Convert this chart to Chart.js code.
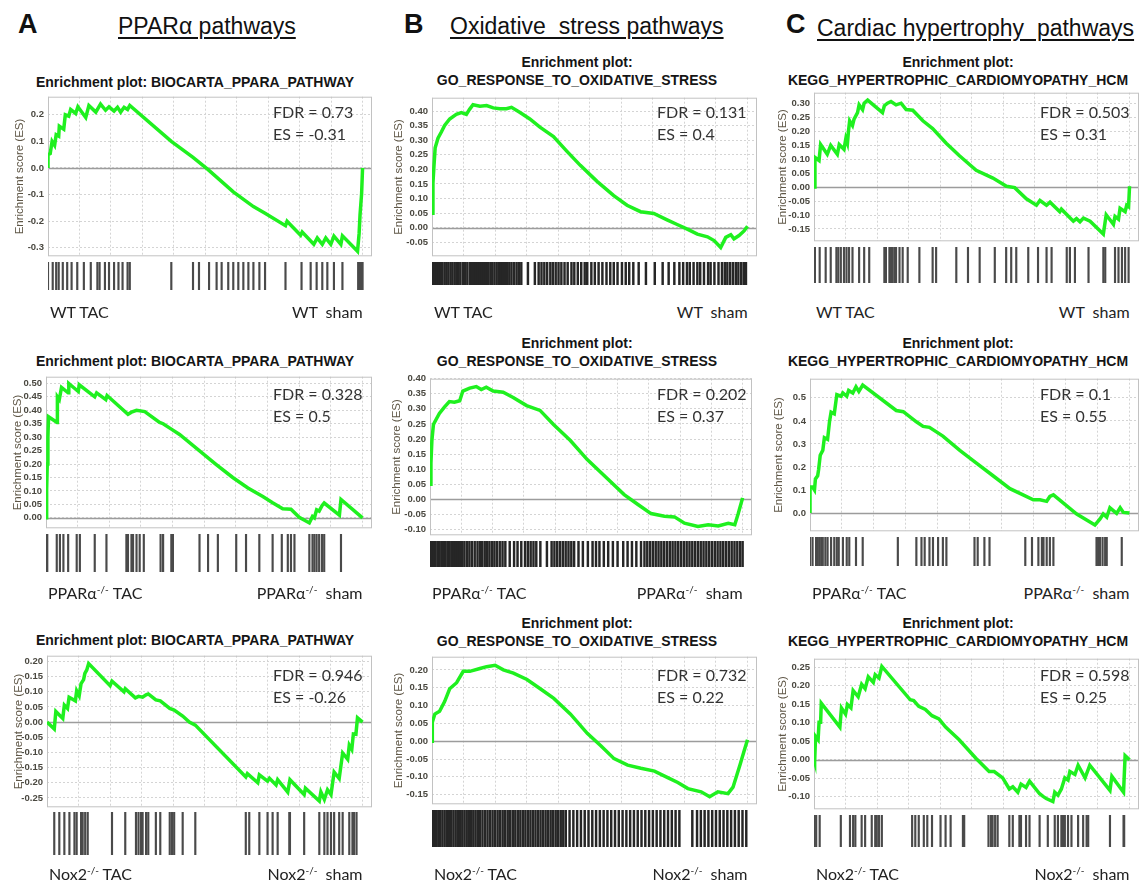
<!DOCTYPE html>
<html>
<head>
<meta charset="utf-8">
<title>GSEA enrichment plots</title>
<script src="https://cdn.jsdelivr.net/npm/chart.js@4.4.0/dist/chart.umd.min.js"></script>
<style>
  body { margin: 0; background: #fff; }
  #page { position: relative; width: 1140px; height: 883px; overflow: hidden; font-family: 'Liberation Sans', Arial, sans-serif; color: #111; }
  .abs { position: absolute; white-space: pre; }
  .letter { font-weight: bold; font-size: 27px; line-height: 27px; }
  .head { font-size: 23px; line-height: 23px; text-decoration: underline; text-decoration-thickness: 1.5px; text-underline-offset: 3px; }
  .ptitle { font-weight: bold; font-size: 14px; line-height: 18px; text-align: center; width: 380px; color: #151515; }
  .stat { font-family: Lato, 'Liberation Sans', sans-serif; font-size: 16px; line-height: 22px; color: #333; }
  .grp { font-family: Lato, 'Liberation Sans', sans-serif; font-size: 16px; line-height: 23px; color: #222; }
  .grp sup { font-size: 10px; line-height: 0; vertical-align: 6px; }
  canvas { position: absolute; }
</style>
</head>
<body>
<div id="page"></div>
<script>
'use strict';

//#region Data

const pathwayHeads = ['PPARα pathways', 'Oxidative  stress pathways', 'Cardiac hypertrophy  pathways'];
const geneSets = ['BIOCARTA_PPARA_PATHWAY', 'GO_RESPONSE_TO_OXIDATIVE_STRESS', 'KEGG_HYPERTROPHIC_CARDIOMYOPATHY_HCM'];
const groups = ['WT', 'PPARα<sup>-/-</sup>', 'Nox2<sup>-/-</sup>'];

// rows: WT, PPARa-/-, Nox2-/- ; cols: PPARa, oxidative stress, hypertrophy
const fdrValues = [['0.73', '0.131', '0.503'], ['0.328', '0.202', '0.1'], ['0.946', '0.732', '0.598']];
const esValues = [['-0.31', '0.4', '0.31'], ['0.5', '0.37', '0.55'], ['-0.26', '0.22', '0.25']];

// running enrichment score: [rank in list (%), ES]
const esA1 = [[0,0],[0,0.05],[0.7,0.054],[1.3,0.1],[2.1,0.085],[2.6,0.125],[3.4,0.12],[3.6,0.157],[5,0.146],[5.5,0.2],[6.6,0.195],[7.2,0.22],[8.8,0.205],[9.5,0.23],[12,0.19],[13,0.235],[15.2,0.21],[16.7,0.24],[18.3,0.217],[19.4,0.23],[21,0.214],[22.1,0.228],[23.1,0.21],[24.2,0.228],[25.3,0.22],[26,0.235],[39.2,0.1],[46.1,0.04],[50.9,-0.006],[58.9,-0.09],[65.3,-0.145],[69,-0.17],[75.5,-0.217],[76,-0.2],[80.3,-0.253],[80.8,-0.241],[84.5,-0.287],[85.6,-0.263],[87.2,-0.287],[88.3,-0.263],[89.9,-0.287],[90.9,-0.256],[93.1,-0.287],[93.6,-0.255],[98.4,-0.313],[98.9,-0.247],[99.2,-0.175],[99.7,-0.096],[100,0]];
const esA2 = [[0,0],[0.2,0.103],[0.4,0.2],[0.6,0.3],[0.8,0.376],[2.8,0.36],[3.5,0.355],[3.6,0.45],[4.2,0.44],[4.9,0.485],[7,0.465],[7.2,0.5],[10.2,0.47],[10.5,0.495],[15.4,0.45],[16,0.465],[18.9,0.44],[19.3,0.455],[25.9,0.385],[27,0.393],[28.6,0.4],[31.2,0.395],[35.9,0.355],[37,0.35],[39.6,0.33],[42.2,0.31],[53.8,0.198],[59,0.15],[63.8,0.111],[68.5,0.079],[71.6,0.056],[74.8,0.034],[77.4,0.032],[80,0.002],[83.2,-0.019],[84.2,0.005],[84.8,0],[85.5,0.03],[86.3,0.025],[87.2,0.045],[87.9,0.055],[92.7,0.01],[93.2,0.068],[100,0]];
const esA3 = [[0,0],[2.3,-0.023],[2.8,0.035],[5,0.012],[5.5,0.056],[6.5,0.045],[7,0.082],[9,0.07],[9.4,0.103],[10.2,0.087],[10.8,0.127],[11.6,0.14],[12,0.161],[12.6,0.172],[13.2,0.193],[20,0.12],[20.6,0.135],[24.4,0.1],[24.8,0.11],[28,0.08],[29,0.085],[30.3,0.082],[31.4,0.09],[32.1,0.093],[34.5,0.073],[35.9,0.07],[38.9,0.045],[40.3,0.04],[43,0.02],[45.1,0],[47,-0.01],[63,-0.181],[63.5,-0.17],[66.8,-0.2],[67.3,-0.174],[69.9,-0.195],[70.5,-0.185],[72.6,-0.207],[73.1,-0.19],[76.3,-0.231],[77,-0.19],[81.5,-0.239],[81.9,-0.218],[86.3,-0.26],[86.8,-0.23],[87.9,-0.255],[88.9,-0.223],[90,-0.239],[91,-0.165],[92.6,-0.186],[93.7,-0.102],[95.3,-0.123],[95.8,-0.076],[96.6,-0.09],[97.1,-0.039],[97.9,-0.04],[98.4,0.014],[100,0]];
const esB1 = [[0,0.05],[0.3,0.153],[0.6,0.208],[1,0.274],[1.9,0.307],[3,0.329],[4,0.351],[5.6,0.373],[7.7,0.389],[9.3,0.395],[10.9,0.389],[11.9,0.406],[13,0.422],[15.2,0.417],[17.3,0.419],[19.4,0.411],[21.5,0.408],[23.6,0.408],[25.2,0.413],[27.9,0.395],[31,0.373],[34.2,0.345],[38.5,0.313],[42.7,0.263],[47,0.214],[52.3,0.159],[57.6,0.11],[61.8,0.077],[66.1,0.055],[70.3,0.049],[74.5,0.027],[77.7,0.011],[80.9,-0.005],[84.1,-0.022],[87.3,-0.031],[89.4,-0.044],[91.5,-0.068],[93.1,-0.033],[94.7,-0.024],[95.7,-0.038],[97.3,-0.027],[98.9,-0.011],[100,0.005]];
const esB2 = [[0,0.05],[0.3,0.121],[0.6,0.195],[1.1,0.248],[1.9,0.264],[3,0.285],[4.6,0.306],[6.2,0.324],[7.8,0.322],[9.5,0.327],[10.5,0.359],[12.7,0.369],[14.8,0.374],[16.4,0.364],[18,0.372],[20.2,0.359],[23.4,0.355],[26.6,0.338],[30.9,0.311],[35.2,0.295],[39.5,0.248],[44.9,0.195],[50.3,0.132],[56.7,0.069],[62.1,0.016],[66.4,-0.016],[70.7,-0.047],[75,-0.056],[78.2,-0.058],[81.4,-0.079],[85.7,-0.09],[89,-0.084],[92.2,-0.088],[95.4,-0.079],[97.5,-0.084],[98.6,-0.047],[100,0.005]];
const esB3 = [[0,0],[0.1,0.053],[0.9,0.076],[2.4,0.084],[4,0.111],[5.6,0.147],[7.8,0.164],[9.9,0.196],[12,0.196],[15.2,0.204],[17.3,0.209],[20,0.213],[22.6,0.2],[25.8,0.191],[30.1,0.173],[34.3,0.147],[38.6,0.12],[43.9,0.076],[49.2,0.022],[53.5,-0.013],[57.7,-0.049],[62,-0.067],[66.2,-0.076],[70.5,-0.084],[74.7,-0.102],[77.9,-0.116],[81.1,-0.133],[85.3,-0.142],[88,-0.156],[90.6,-0.142],[93.8,-0.147],[95.4,-0.129],[97.6,-0.067],[99.1,-0.022],[100,0.004]];
const esC1 = [[0,0],[0.3,0.106],[1.6,0.095],[2.1,0.152],[4.2,0.117],[5.3,0.149],[7.4,0.117],[8,0.152],[9.5,0.135],[10.1,0.174],[10.6,0.157],[10.9,0.197],[11.3,0.237],[12.2,0.22],[12.7,0.243],[13.8,0.266],[14.3,0.294],[15.4,0.277],[15.9,0.3],[17,0.311],[21.7,0.266],[22.3,0.291],[23.3,0.3],[24.4,0.306],[26,0.294],[27.6,0.3],[29.2,0.277],[31.3,0.275],[34.5,0.237],[37.6,0.209],[41.9,0.157],[46.1,0.112],[51.4,0.06],[56.7,0.032],[61,0.003],[63.6,-0.002],[67.3,-0.042],[70.5,-0.065],[71.6,-0.048],[73.7,-0.065],[74.8,-0.054],[77.9,-0.088],[78.4,-0.079],[82.2,-0.122],[83.2,-0.113],[84.3,-0.124],[85.4,-0.111],[87.5,-0.122],[91.7,-0.168],[92.6,-0.099],[94.9,-0.133],[95.4,-0.105],[96.5,-0.115],[97,-0.076],[98.6,-0.088],[99.1,-0.065],[99.7,-0.07],[100,0.003]];
const esC2 = [[0,0],[0,0.113],[0.8,0.113],[1.4,0.1],[1.7,0.148],[2.4,0.162],[2.7,0.189],[3.2,0.251],[4,0.272],[4.5,0.327],[5.5,0.32],[6.1,0.396],[6.6,0.438],[7.6,0.431],[8.4,0.514],[9.7,0.507],[10.3,0.521],[11.5,0.507],[12.1,0.532],[13.4,0.521],[14.4,0.548],[15.3,0.528],[16.5,0.555],[27,0.445],[29.2,0.44],[33.3,0.396],[35.4,0.376],[37.4,0.372],[41.6,0.334],[46.9,0.272],[52.1,0.217],[57.3,0.162],[62.6,0.106],[66.7,0.079],[69.9,0.058],[72,0.058],[74.1,0.051],[75.1,0.072],[76.2,0.079],[83.5,-0.004],[89.2,-0.052],[90.8,-0.025],[91.8,-0.004],[92.9,-0.018],[93.9,0.023],[96,-0.001],[97.1,0.023],[98.1,0.003],[100,0]];
const esC3 = [[0,0],[0.2,-0.006],[0.5,0.063],[1.3,0.054],[1.6,0.101],[2.1,0.101],[2.3,0.153],[8.2,0.088],[8.7,0.14],[10,0.123],[10.6,0.149],[11.7,0.14],[12.4,0.187],[14,0.17],[15.1,0.204],[16.2,0.192],[17.2,0.224],[18.8,0.209],[19.4,0.23],[20.6,0.221],[21.5,0.252],[30.5,0.162],[31.6,0.16],[33.2,0.144],[35.3,0.136],[37.4,0.119],[39.6,0.11],[41.7,0.088],[46,0.054],[51.3,0.004],[55.5,-0.032],[57.1,-0.032],[59.8,-0.049],[61.9,-0.079],[63,-0.073],[64.6,-0.088],[65.6,-0.066],[67.2,-0.075],[68.3,-0.058],[71.5,-0.092],[72.6,-0.099],[73.6,-0.105],[75.7,-0.113],[76.3,-0.088],[77.3,-0.096],[78.4,-0.079],[79.5,-0.049],[80.5,-0.055],[81.1,-0.032],[82.7,-0.04],[83.7,-0.015],[85.9,-0.049],[87.4,-0.015],[93.8,-0.083],[94.4,-0.045],[98.1,-0.088],[98.6,0.011],[100,0]];

// gene set members along the ranked list (%)
const hitsA1 = [0,1.5,2.6,3.4,4.7,6.1,7.5,9.3,11.4,13.6,15.7,16.4,18.1,19.4,21,22.4,23.7,25.3,26,39.2,46.1,48,51.2,53.6,55.2,57.3,58.9,60.5,62.1,63.7,65.3,67.2,69,75.5,80.6,83.5,85.4,87.2,88.8,90.9,93.6,98.6,99,99.5,100];
const hitsA2 = [0,0.4,3.4,4.4,5.5,7,9.7,10.7,15.4,19.1,25.4,25.9,27,27.5,28.6,29.6,30.9,36.2,37,39.6,40.1,48.5,51.2,54.3,60.1,63.2,67.4,71.6,74.5,76.4,77.4,78.5,83.2,84.2,84.8,85.5,86.3,87.2,87.9,93.2];
const hitsA3 = [2.3,3.9,5.5,7.1,8.7,9.4,10.8,11.3,12.1,12.9,20.6,24.8,28.2,29,29.8,30.3,31.4,32.1,34.5,35.9,38.9,39.6,40.3,43,47,63,64.1,67.3,69.9,71.5,73.1,76.8,77,81.5,86.3,87.9,88.9,90,91,92.6,93.7,95.8,96.8,97.3,98.1];
const hitsB1 = [0,0.5,1,1.6,2.2,2.8,3.3,4,4.6,5.2,5.9,6.5,7.2,7.9,8.4,9,9.8,10.5,11.2,12,12.6,13.3,14,14.6,15.2,15.8,16.4,17.1,17.8,18.5,19.1,19.8,20.5,21.2,21.9,22.5,23.2,23.8,24.5,25.2,26,26.8,27.5,28.3,30.4,32.6,33.8,34.7,35.6,36.5,37.5,38.3,39.2,40.1,41,42,43,44.2,45.1,46.2,47.3,48.4,49.2,50.5,51.6,52.8,54,55.3,56.5,57.6,58.8,60.2,61.4,62.5,63.8,65.5,67.8,70.6,73.1,75,76.8,78.4,79.6,80.8,81.7,82.9,84.1,85,86.2,87.5,88.3,89.5,90.8,91.9,92.8,93.6,94.5,95.4,96.3,97.1,98,98.8,99.5];
const hitsB2 = [0,0.6,1.2,1.8,2.5,3.1,3.8,4.4,5,5.7,6.3,7,7.6,8.3,9,9.6,10.3,11,11.8,12.6,13.4,14.3,15.2,16,16.7,17.5,18.2,19,19.8,20.6,21.4,22.3,23.2,24.1,25.5,26.9,28,29.2,30.4,31.3,32.2,33.1,34,35.3,37.4,38.9,39.8,40.7,41.6,42.5,43.4,44.3,45.2,46.1,47.5,48.9,50.5,52,53.1,54.2,55.6,57,58.5,60,61.8,63.2,64.6,66,67.5,68.6,69.5,70.4,71.3,72.2,73.1,74,74.9,75.8,76.7,77.6,78.5,79.4,80.3,81.2,82.1,83,83.9,84.8,85.7,86.6,87.5,88.4,89.3,90.2,91.1,92,92.9,93.8,94.7,95.6,96.5,97.4,98.3,99.2,100];
const hitsB3 = [0,0.6,1.3,2,2.6,3.3,4,4.7,5.4,6.1,6.8,7.5,8.2,8.9,9.6,10.3,11,11.7,12.4,13.1,13.8,14.5,15.2,16,16.8,17.6,18.4,19.2,20,20.8,21.6,22.4,23.2,24,24.8,25.6,26.4,27.2,28,28.8,29.6,30.4,31.2,32,32.8,33.6,34.4,35.2,36,36.8,37.6,38.4,39.2,40,40.8,41.6,42.4,43.6,44.8,46,47.2,48.4,49.6,50.8,52,53.2,54.4,55.6,56.8,58,59.2,60.4,61.6,62.8,64,65.2,66.4,67.6,68.8,70,71.2,72.4,73.6,74.8,76,77.2,78.4,82.5,84,85.2,86.4,87.6,88.8,90,91.2,92.4,93.6,94.8,96,97.2,98.4,99.6];
const hitsC1 = [0.3,1.8,3.7,5.3,7.1,7.7,8.5,9.5,10.3,11.1,12.2,14.3,15.9,17.5,22.3,22.8,23.9,24.4,24.9,25.5,26,27.1,28.1,29.7,33.4,37.6,38.7,45.1,48.8,52.5,57.3,60.9,62.5,64.1,67.9,71,73.7,75.3,80.1,81.1,82.7,87,91.7,92.3,95.4,96.5,97.6,98.6,99.7];
const hitsC2 = [0,0.8,1.9,2.4,2.9,3.5,4,4.8,5.5,6.6,7.6,8.4,9,10.3,11.5,12.3,14.4,16.5,27.5,33.3,34.9,35.9,37.4,38.5,40.1,41.6,42.7,51.5,52.5,54.6,56.2,67.4,69.5,71.5,72.6,73.1,74.1,75.1,76.2,89.7,90.2,90.8,91.6,92.4,92.9,97.6];
const hitsC3 = [0.2,0.7,1.8,8.5,11.4,12.4,13.1,15.1,16.2,18.3,19.4,19.9,20.6,21.5,31.1,32.1,33.2,34.8,35.9,37.4,40.1,41.7,43.3,47.2,47.6,55.3,56.1,56.6,57.4,58.2,61.9,63,65.1,65.6,67.2,68.3,71.5,74.1,76.3,77.3,78.4,78.9,79.5,80.5,81.6,83.7,85.3,86.4,86.9,93.8,98.1,98.3];

const esData = { a1: esA1, a2: esA2, a3: esA3, b1: esB1, b2: esB2, b3: esB3, c1: esC1, c2: esC2, c3: esC3 };
const hitData = { a1: hitsA1, a2: hitsA2, a3: hitsA3, b1: hitsB1, b2: hitsB2, b3: hitsB3, c1: hitsC1, c2: hitsC2, c3: hitsC3 };

//#endregion

//#region Layout

const page = document.getElementById('page');
const X_MAX = 103;
const PAD_T = 6;
const PAD_B = 6;
const axisWidth = [35, 40, 38];
const titleCenter = [195, 577, 958];
const titleTop1 = [73, 352, 631];
const titleTop2 = [53, 334, 614];
const statLeft = [273, 657, 1040];
const statTop = [101, 383, 664];
const groupTop = [300, 581, 862];

// box: [left, top, right, bottom] of the ES plot, hits: [top, bottom] of barcode
const panelLayout = {
  a1: { box: [48, 93, 372, 260], hits: [262, 290], y: [-0.332, 0.268], step: 0.1, dec: 1 },
  b1: { box: [432, 94, 757, 260], hits: [262, 285], y: [-0.098, 0.446], step: 0.05, dec: 2 },
  c1: { box: [814, 89, 1139, 245], hits: [247, 283], y: [-0.194, 0.3375], step: 0.05, dec: 2 },
  a2: { box: [46, 373, 372, 532], hits: [534, 572], y: [-0.039, 0.525], step: 0.05, dec: 2 },
  b2: { box: [430, 375, 752, 539], hits: [541, 567], y: [-0.119, 0.40], step: 0.05, dec: 2 },
  c2: { box: [810, 375, 1139, 535], hits: [537, 566], y: [-0.079, 0.583], step: 0.1, dec: 1 },
  a3: { box: [47, 652, 372, 811], hits: [812, 855], y: [-0.281, 0.219], step: 0.05, dec: 2 },
  b3: { box: [432, 653, 757, 808], hits: [810, 847], y: [-0.177, 0.237], step: 0.05, dec: 2 },
  c3: { box: [814, 655, 1139, 813], hits: [815, 847], y: [-0.134, 0.273], step: 0.05, dec: 2 }
};

//#endregion

//#region Helpers

Chart.defaults.font.family = "'Liberation Sans', Arial, sans-serif";

function addText(html, cls, css) {
  const el = document.createElement('div');
  el.className = 'abs ' + cls;
  el.innerHTML = html;
  Object.assign(el.style, css);
  page.appendChild(el);
  return el;
}

function addCanvas(left, top, w, h) {
  const cv = document.createElement('canvas');
  cv.width = w;
  cv.height = h;
  cv.style.left = left + 'px';
  cv.style.top = top + 'px';
  cv.style.width = w + 'px';
  cv.style.height = h + 'px';
  page.appendChild(cv);
  return cv;
}

// ticks on multiples of the step, not counted from the axis minimum
function stepTicks(step) {
  return function(scale) {
    const ticks = [];
    for (let k = Math.ceil(scale.min / step - 1e-6); k * step <= scale.max + 1e-9; k++) {
      ticks.push({ value: Number((k * step).toFixed(6)) });
    }
    scale.ticks = ticks;
  };
}

// plot frame and the zero line, under the curve
const framePlugin = {
  id: 'esFrame',
  beforeDatasetsDraw(chart) {
    const { ctx, chartArea: a, scales: { y } } = chart;
    const y0 = Math.round(y.getPixelForValue(0)) + 0.5;
    ctx.save();
    ctx.strokeStyle = '#9c9c9c';
    ctx.lineWidth = 1.6;
    ctx.beginPath();
    ctx.moveTo(a.left, y0);
    ctx.lineTo(a.right, y0);
    ctx.stroke();
    ctx.strokeStyle = '#c2c2c2';
    ctx.lineWidth = 1;
    ctx.strokeRect(a.left + 0.5, a.top + 0.5, a.width - 1, a.height - 1);
    ctx.restore();
  }
};

function renderEsChart(key, col) {
  const p = panelLayout[key];
  const left = p.box[0] - axisWidth[col];
  const top = p.box[1] - PAD_T;
  const w = p.box[2] - left;
  const h = p.box[3] - top + PAD_B;
  const cv = addCanvas(left, top, w, h);

  new Chart(cv, { // eslint-disable-line no-new
    type: 'line',
    data: {
      datasets: [{
        data: esData[key].map(d => ({ x: d[0], y: d[1] })),
        borderColor: '#1ff01f',
        borderWidth: 3.5,
        pointRadius: 0,
        tension: 0,
        fill: false
      }]
    },
    options: {
      responsive: false,
      animation: false,
      events: [],
      layout: { padding: { top: PAD_T, bottom: PAD_B, left: 0, right: 0 } },
      plugins: { legend: { display: false }, tooltip: { enabled: false } },
      scales: {
        x: {
          type: 'linear',
          min: 0,
          max: X_MAX,
          ticks: { display: false },
          afterBuildTicks: stepTicks(10),
          grid: { color: '#d4d4d4', drawTicks: false },
          border: { display: false, dash: [2, 2] },
          afterFit: s => { s.height = 0; }
        },
        y: {
          min: p.y[0],
          max: p.y[1],
          afterBuildTicks: stepTicks(p.step),
          ticks: {
            padding: 4,
            color: '#4a4840',
            font: { size: 9.5, weight: 'bold' },
            callback: v => (Math.abs(v) < 1e-9 ? 0 : v).toFixed(p.dec)
          },
          grid: { color: '#d4d4d4', drawTicks: false },
          border: { display: false, dash: [2, 2] },
          title: { display: true, text: 'Enrichment score (ES)', color: '#5f5747', font: { size: 11.5 }, padding: 0 },
          afterFit: s => { s.width = axisWidth[col]; }
        }
      }
    },
    plugins: [framePlugin]
  });
}

function renderHits(key, col) {
  const p = panelLayout[key];
  const w = p.box[2] - p.box[0];
  const h = p.hits[1] - p.hits[0];
  const cv = addCanvas(p.box[0], p.hits[0], w, h);
  const dense = col === 1;

  new Chart(cv, { // eslint-disable-line no-new
    type: 'bar',
    data: {
      datasets: [{
        data: hitData[key].map(x => ({ x: x, y: 1 })),
        backgroundColor: dense ? '#262626' : '#4a4a4a',
        barThickness: dense ? 1.8 : 1.5,
        borderWidth: 0
      }]
    },
    options: {
      responsive: false,
      animation: false,
      events: [],
      layout: { padding: 0 },
      plugins: { legend: { display: false }, tooltip: { enabled: false } },
      scales: {
        x: { type: 'linear', min: 0, max: X_MAX, offset: false, display: false },
        y: { min: 0, max: 1, display: false }
      }
    }
  });
}

//#endregion

//#region Render

['A', 'B', 'C'].forEach((t, c) => {
  addText(t, 'letter', { left: [18, 404, 786][c] + 'px', top: '11px' });
  addText(pathwayHeads[c], 'head', { left: [118, 450, 817][c] + 'px', top: [15, 15, 17][c] + 'px' });
});

for (let r = 0; r < 3; r++) {
  for (let c = 0; c < 3; c++) {
    const key = 'abc'[c] + (r + 1);
    const p = panelLayout[key];

    if (c === 0) {
      addText('Enrichment plot: ' + geneSets[c], 'ptitle', { left: (titleCenter[c] - 190) + 'px', top: titleTop1[r] + 'px' });
    } else {
      addText('Enrichment plot:\n' + geneSets[c], 'ptitle', { left: (titleCenter[c] - 190) + 'px', top: titleTop2[r] + 'px' });
    }

    renderEsChart(key, c);
    renderHits(key, c);

    addText('FDR = ' + fdrValues[r][c] + '\nES = ' + esValues[r][c], 'stat', { left: statLeft[c] + 'px', top: statTop[r] + 'px' });

    const endX = p.box[0] + (p.box[2] - p.box[0]) * 100 / X_MAX;
    addText(groups[r] + ' TAC', 'grp', { left: (p.box[0] + 2) + 'px', top: groupTop[r] + 'px' });
    addText(groups[r] + '  sham', 'grp', { right: (1140 - endX) + 'px', top: groupTop[r] + 'px' });
  }
}

//#endregion
</script>
</body>
</html>
